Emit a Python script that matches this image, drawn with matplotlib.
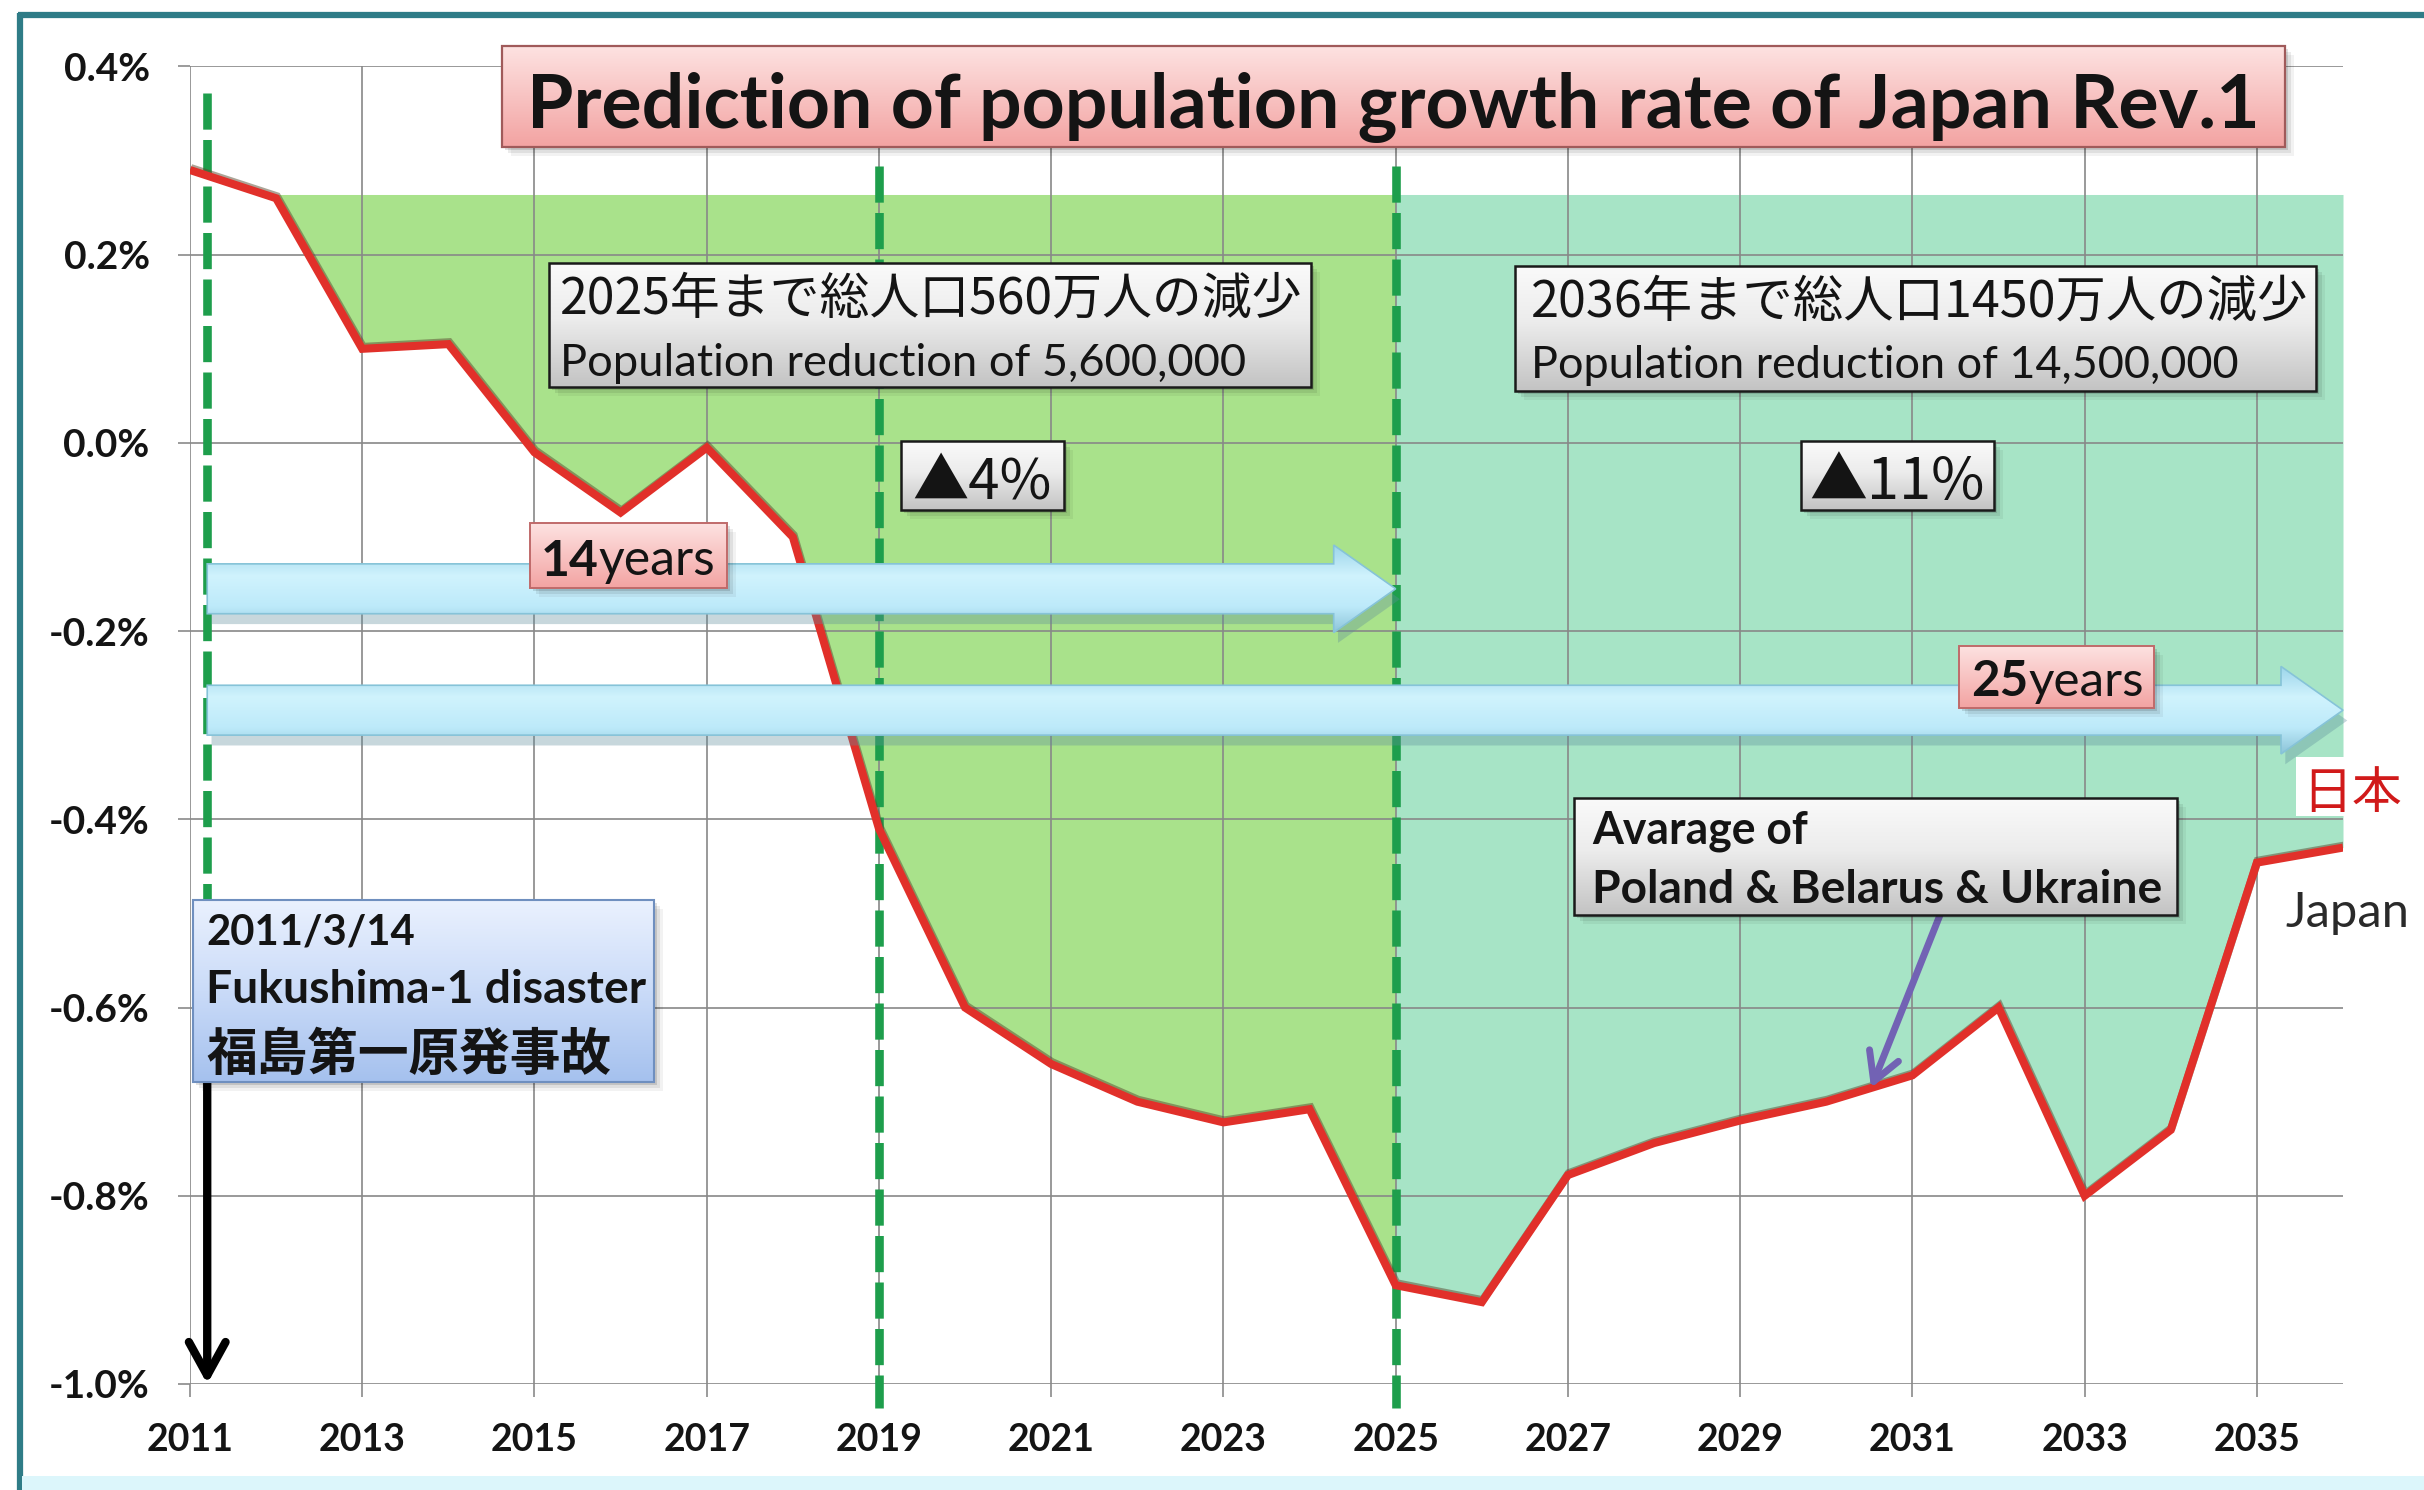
import numpy as np
import matplotlib
matplotlib.use("Agg")
import matplotlib.pyplot as plt
from matplotlib.patches import Rectangle, FancyArrow
from matplotlib.colors import to_rgb
import matplotlib.patheffects as pe
from matplotlib.transforms import blended_transform_factory

# ---------------- data ----------------
years = list(range(2011, 2037))
growth_rate = [0.29, 0.26, 0.10, 0.105, -0.01, -0.074, -0.005, -0.10,
               -0.41, -0.60, -0.66, -0.70, -0.722, -0.708, -0.895, -0.913,
               -0.778, -0.744, -0.72, -0.70, -0.672, -0.60, -0.80, -0.73,
               -0.446, -0.43]
band_top = 0.264            # upper edge of the shaded reduction bands
split_year = 2025           # first band ends / second band starts
disaster_year = 2011.2      # 2011/3/14
marker_years = [2019, 2025]
period_ends = [2025, 2036]
period_numbers = ["14", "25"]
avg_target_year = 2030.52

x_ticks = list(range(2011, 2036, 2))
y_ticks = [0.4, 0.2, 0.0, -0.2, -0.4, -0.6, -0.8, -1.0]
y_tick_labels = ["0.4%", "0.2%", "0.0%", "-0.2%", "-0.4%", "-0.6%", "-0.8%", "-1.0%"]

title = "Prediction of population growth rate of Japan Rev.1"
box1_lines = ["2025年まで総人口560万人の減少", "Population reduction of 5,600,000"]
box2_lines = ["2036年まで総人口1450万人の減少", "Population reduction of 14,500,000"]
drop_labels = ["▲4%", "▲11%"]
event_lines = ["2011/3/14", "Fukushima-1 disaster", "福島第一原発事故"]
avg_lines = ["Avarage of", "Poland & Belarus & Ukraine"]
series_jp = "日本"
series_en = "Japan"

# ---------------- figure ----------------
W, H = 2424, 1490
fig = plt.figure(figsize=(W / 100, H / 100), dpi=100)
fig.patch.set_facecolor("white")

LATIN = "Lato"
CJK = ["Noto Sans CJK JP", "DejaVu Sans"]
INK = "#141414"

ax = fig.add_axes([190 / W, 1 - 1384 / H, (2343 - 190) / W, (1384 - 66.5) / H])
ax.set_facecolor("none")
for s in ax.spines.values():
    s.set_visible(False)

# shaded bands between the reference level and the curve
i_split = years.index(split_year)
ax.fill_between(years[1:i_split + 1], growth_rate[1:i_split + 1], band_top,
                color="#a9e28b", lw=0, zorder=1)
ax.fill_between(years[i_split:], growth_rate[i_split:], band_top,
                color="#a7e4c6", lw=0, zorder=1)

# growth-rate curve
ax.plot(years, growth_rate, color="#e1302a", lw=5.8, zorder=4,
        solid_joinstyle="miter", solid_capstyle="butt",
        path_effects=[pe.SimpleLineShadow(offset=(0.6, 1.4), shadow_color="#5a4a30", alpha=0.5),
                      pe.Normal()])

# dashed year markers
dash_kw = dict(color="#1e9e4c", lw=6.2, dashes=(4.2, 1.2), zorder=3.5, clip_on=False)
ax.plot([disaster_year, disaster_year], [0.372, -0.49], **dash_kw)
for x in marker_years:
    ax.plot([x, x], [0.294, -1.025], **dash_kw)


def make_grad(stops, n=128):
    pos = np.linspace(0, 1, n)
    sp = [p for p, _ in stops]
    cols = np.array([to_rgb(c) for _, c in stops])
    arr = np.stack([np.interp(pos, sp, cols[:, k]) for k in range(3)], axis=-1)
    return arr[:, None, :]


# period arrows (light blue block arrows)
arrow_rows = [-0.155, -0.284]
arrow_stops = [(0.0, "#9cd5ea"), (0.35, "#d0f3fd"), (0.7, "#bdeafa"), (1.0, "#8cc4d8")]
for end, yc in zip(period_ends, arrow_rows):
    geom = dict(width=0.053, head_width=0.093, head_length=0.72, length_includes_head=True)
    shadow = FancyArrow(disaster_year + 0.05, yc - 0.011, end - disaster_year, 0, **geom,
                        fc="#5f8e9c", ec="none", alpha=0.35, zorder=5, clip_on=False)
    ax.add_patch(shadow)
    arr = FancyArrow(disaster_year, yc, end - disaster_year, 0, **geom,
                     fc="none", ec="#86c3d8", lw=1.2, zorder=5.2, clip_on=False)
    ax.add_patch(arr)
    verts = arr.get_path().vertices
    img = ax.imshow(make_grad(arrow_stops),
                    extent=(verts[:, 0].min(), verts[:, 0].max(), verts[:, 1].min(), verts[:, 1].max()),
                    origin="upper", aspect="auto", interpolation="bilinear", zorder=5.1)
    img.set_clip_path(arr)
    img.set_clip_on(True)

ax.set_xlim(2011, 2036)
ax.set_ylim(-1.0, 0.4)
ax.set_xticks(x_ticks)
ax.set_xticklabels([str(x) for x in x_ticks], fontfamily=LATIN, fontweight="bold",
                   fontsize=27, color=INK)
ax.set_yticks(y_ticks)
ax.set_yticklabels(y_tick_labels, fontfamily=LATIN, fontweight="bold", fontsize=28, color=INK)
ax.tick_params(axis="both", length=9, width=1.2, color="#8a8a8a", direction="out")
ax.tick_params(axis="x", pad=19)
ax.tick_params(axis="y", pad=20)
ax.grid(True, color="#888888", lw=1.2)
ax.set_axisbelow(False)

# ---------------- overlay in pixel units for call-out boxes ----------------
ov = fig.add_axes([0, 0, 1, 1], zorder=10)
ov.set_facecolor("none")
ov.axis("off")


def grad_rect(x0, y0, x1, y1, stops, edge, lw, z=5, shadow=True):
    if shadow:
        for d, a in [(9, 0.05), (6, 0.08), (3, 0.12)]:
            ov.add_patch(Rectangle((x0 + d, y0 + d), x1 - x0, y1 - y0, fc="black",
                                   ec="none", alpha=a, zorder=z - 0.5))
    rect = Rectangle((x0, y0), x1 - x0, y1 - y0, fc="none", ec=edge, lw=lw, zorder=z + 0.2)
    ov.add_patch(rect)
    img = ov.imshow(make_grad(stops), extent=(x0, x1, y1, y0), origin="upper",
                    aspect="auto", interpolation="bilinear", zorder=z)
    img.set_clip_path(rect)
    return rect


fits = []


def label(x, y, s, width, family=LATIN, weight="normal", ha="left", color=INK, z=7):
    t = ov.text(x, y, s, ha=ha, va="center_baseline", fontsize=24, family=family,
                fontweight=weight, color=color, zorder=z)
    fits.append(([t], width))
    return t


def two_part(x, y, bold_part, rest, width, z=7):
    t1 = ov.text(x, y, bold_part, ha="left", va="center_baseline", fontsize=24,
                 family=LATIN, fontweight="bold", color=INK, zorder=z)
    t2 = ov.annotate(rest, xy=(1, 0), xycoords=t1, ha="left", va="bottom", fontsize=24,
                     family=LATIN, color=INK, zorder=z)
    fits.append(([t1, t2], width))


gray = [(0.0, "#fafafa"), (0.45, "#ececec"), (1.0, "#c3c3c3")]
pink = [(0.0, "#fde2e1"), (0.5, "#f8c3c2"), (1.0, "#f3a3a2")]
blue = [(0.0, "#eaf1fe"), (0.5, "#cadbf8"), (1.0, "#a5c1ee")]

# title
grad_rect(502, 46, 2285, 147, pink, "#a05a5a", 1.6)
label(1393, 100, title, 1731, weight="bold", ha="center")

# reduction boxes
grad_rect(549, 263, 1311, 387, gray, "#1a1a1a", 1.8)
label(560, 294, box1_lines[0], 743, family=CJK)
label(560, 359, box1_lines[1], 686)
grad_rect(1515, 266, 2316, 391, gray, "#1a1a1a", 1.8)
label(1531, 297, box2_lines[0], 777, family=CJK)
label(1531, 362, box2_lines[1], 708)

# percentage drop boxes
grad_rect(901, 441, 1064, 510, gray, "#1a1a1a", 1.8)
label(982, 476, drop_labels[0], 139, family=CJK, ha="center")
grad_rect(1801, 441, 1994, 510, gray, "#1a1a1a", 1.8)
label(1897, 476, drop_labels[1], 175, family=CJK, ha="center")

# period length tags
grad_rect(530, 523, 727, 588, pink, "#c06a6a", 1.4)
two_part(541, 557, period_numbers[0], "years", 175)
grad_rect(1959, 646, 2154, 708, pink, "#c06a6a", 1.4)
two_part(1971, 677, period_numbers[1], "years", 173)

# disaster call-out
grad_rect(193, 900, 654, 1082, blue, "#6f8fbf", 1.5)
label(206, 929, event_lines[0], 209, weight="bold")
label(206, 986, event_lines[1], 439, weight="bold")
label(206, 1050, event_lines[2], 406, family=CJK, weight="bold")

# comparison call-out
grad_rect(1574, 798, 2177, 915, gray, "#1a1a1a", 1.8)
label(1592, 827, avg_lines[0], 216, weight="bold")
label(1592, 886, avg_lines[1], 569, weight="bold")

# series names at the right end
ov.add_patch(Rectangle((2296, 757), 116, 59, fc="white", ec="none", zorder=6))
label(2352, 788, series_jp, 100, family=CJK, ha="center", color="#d11a1a")
label(2347, 909, series_en, 124, ha="center", color="#2a2a2a")

# outer frame
ov.plot([18, W], [15, 15], color="#2f7c87", lw=4.5, solid_capstyle="butt", zorder=8)
ov.plot([20, 20], [13, H], color="#2f7c87", lw=4.5, solid_capstyle="butt", zorder=8)
ov.add_patch(Rectangle((22, H - 14), W, 14, fc="#dcf6fb", ec="none", zorder=8))

ov.set_xlim(0, W)
ov.set_ylim(H, 0)

# arrows from the call-outs down to the chart
px_x = blended_transform_factory(ax.transData, ov.transData)
ax.annotate("", xy=(disaster_year, -1.0), xycoords="data",
            xytext=(disaster_year, 1082), textcoords=px_x,
            arrowprops=dict(arrowstyle="->, head_length=0.6, head_width=0.33",
                            mutation_scale=40, lw=6, color="black",
                            shrinkA=0, shrinkB=0), zorder=6)
ax.annotate("", xy=(avg_target_year, np.interp(avg_target_year, years, growth_rate)),
            xycoords="data", xytext=(1940, 915), textcoords=ov.transData,
            arrowprops=dict(arrowstyle="->, head_length=0.5, head_width=0.28",
                            mutation_scale=40, lw=5, color="#7262b4",
                            shrinkA=0, shrinkB=0), zorder=6)

# scale each text to its measured width
fig.canvas.draw()
r = fig.canvas.get_renderer()
for texts, width in fits:
    w = sum(t.get_window_extent(renderer=r).width for t in texts)
    for t in texts:
        t.set_fontsize(t.get_fontsize() * width / w)

fig.savefig("out.png", dpi=100, facecolor="white")
